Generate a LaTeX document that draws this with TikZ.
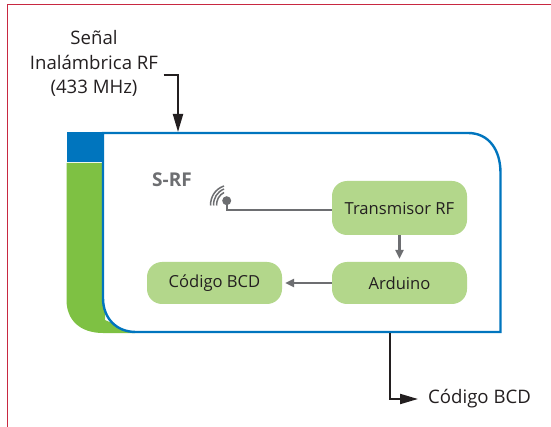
\documentclass[tikz,border=0pt]{standalone}
\usepackage{fontspec}
\setmainfont{Open Sans}
\usetikzlibrary{arrows.meta}
\definecolor{rframe}{RGB}{200,40,65}
\definecolor{bluec}{RGB}{0,117,190}
\definecolor{greenc}{RGB}{126,193,67}
\definecolor{boxg}{RGB}{179,215,139}
\definecolor{greyc}{RGB}{109,110,113}
\definecolor{darkc}{RGB}{35,31,32}
\tikzset{
  x=1pt,y=-1pt,
  blockn/.style={draw=none,fill=boxg,rounded corners=15pt,inner sep=0pt,minimum width=135pt,text=darkc,font=\fontsize{16.6}{18}\selectfont},
  labeln/.style={text=darkc,font=\fontsize{18.6}{24.8}\selectfont,inner sep=0pt,align=center},
  greyline/.style={draw=greyc,line width=2.4pt},
  greyarrow/.style={greyline,-{Triangle[length=9pt,width=8pt]},shorten >=3pt},
  blackarrow/.style={draw=darkc,line width=2pt,-{Triangle[length=18pt,width=10pt]}}
}
\begin{document}
\begin{tikzpicture}
\useasboundingbox (0,0) rectangle (551,427);
\draw[rframe,line width=1.2pt] (7.5,427) -- (7.5,4.5) -- (551,4.5);
% green side and blue tab
\fill[greenc] (66.5,162.8) -- (105,162.8) -- (105,320) -- (135,333) -- (103,333) .. controls (80,333) and (66.5,320) .. (66.5,300) -- cycle;
\fill[bluec] (66.5,132) rectangle (103,161.7);
% main frame
\draw[bluec,line width=2.4pt,fill=white] (103,133) -- (468,133) .. controls (489,133) and (500.5,150) .. (500.5,173) -- (500.5,332) -- (136,332) .. controls (116,332) and (103,318) .. (103,298) -- cycle;
% blocks
\node[blockn,minimum height=54pt] (tx) at (399.5,208) {Transmisor RF};
\node[blockn,minimum height=42pt] (ar) at (399.5,283) {Arduino};
\node[blockn,minimum height=42pt] (bcd) at (214.5,283) {Código BCD};
\node[text=greyc,inner sep=0pt,font=\bfseries\fontsize{19}{20}\selectfont] (srf) at (172,180) {S-RF};
% antenna
\node[circle,fill=greyc,minimum size=9pt,inner sep=0pt] (ant) at (226.7,200.7) {};
\draw[greyc,line width=1.5pt] (210.5,205.5) .. controls (210.5,197) and (215,189) .. (224,186);
\draw[greyc,line width=1.5pt] (213.5,205.5) .. controls (213.5,198) and (217,192) .. (224,189);
\draw[greyc,line width=1.5pt] (216.5,205.5) .. controls (216.5,200) and (219,195) .. (224,192.5);
% connectors
\draw[greyline] (ant.center) |- ([yshift=-2pt]tx.west);
\draw[greyarrow] (tx.south) -- (ar.north);
\draw[greyarrow] (ar.west) -- (bcd.east);
% labels
\node[labeln] (sig) at (94,63.5) {Señal\\Inalámbrica RF\\(433 MHz)};
\coordinate (sigstart) at (163.5,75);
\coordinate (sigend) at (178,132);
\draw[blackarrow] (sigstart) -| (sigend);
\node[labeln,anchor=west] (out) at (428,399) {Código BCD};
\coordinate (outstart) at (389.5,333);
\coordinate (outend) at (418,399);
\draw[blackarrow] (outstart) |- (outend);
\end{tikzpicture}
\end{document}
